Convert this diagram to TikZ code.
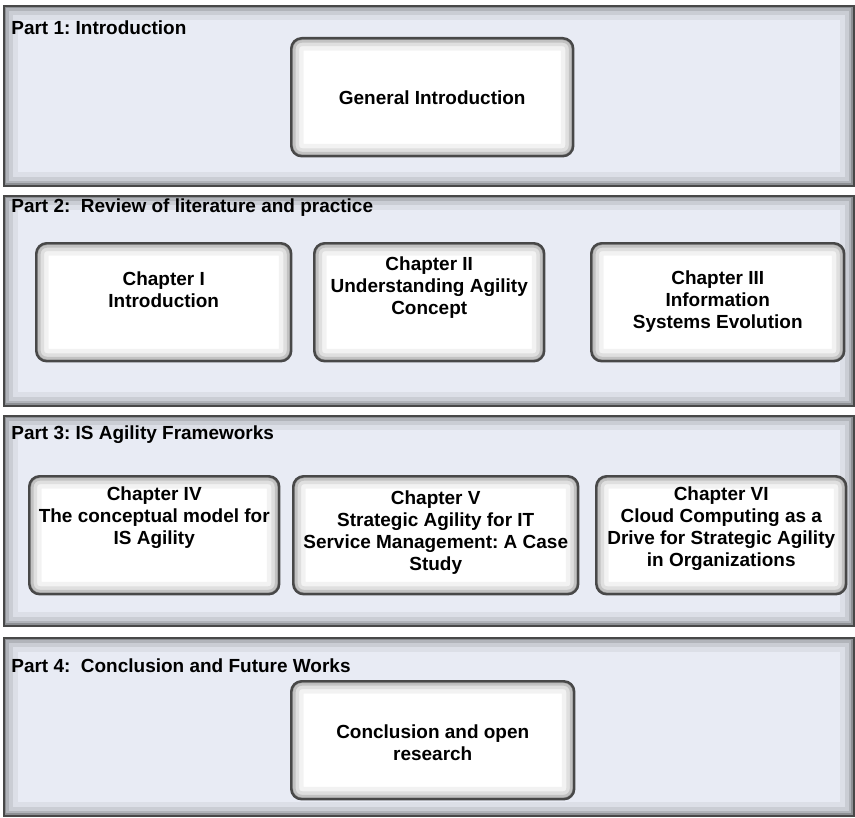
\documentclass[tikz,border=0pt]{standalone}
\usepackage{fontspec}
\setmainfont{Liberation Sans}
\usepackage{xcolor}
\usepackage{tikz}
\usetikzlibrary{positioning}
\frenchspacing
\definecolor{panelfill}{RGB}{232,235,244}
\definecolor{frameline}{RGB}{72,72,72}
\newcommand{\boxlines}[3]{\parbox[c][2.36cm][t]{#1}{\centering\vspace*{#2}#3}}

\begin{document}
\begin{tikzpicture}[
    partpanel/.style={
        rectangle,
        draw=frameline,
        line width=0.9pt,
        fill=panelfill,
        anchor=north west,
        minimum width=17cm,
        inner sep=0pt,
        path picture={
            \foreach \w/\o in {16pt/0.05, 10pt/0.08, 6pt/0.12, 3pt/0.2} {
                \draw[black, opacity=\o, line width=\w]
                    (path picture bounding box.south west) rectangle (path picture bounding box.north east);
            }
        }
    },
    partlabel/.style={
        anchor=base west,
        inner sep=0pt,
        font=\bfseries\fontsize{10.8}{12.5}\selectfont
    },
    chapbox/.style={
        rectangle,
        rounded corners=6pt,
        draw=frameline,
        line width=1.4pt,
        fill=white,
        anchor=north west,
        minimum height=2.36cm,
        inner sep=0pt,
        font=\bfseries\fontsize{10.8}{12.5}\selectfont,
        path picture={
            \foreach \w/\o in {14pt/0.05, 9pt/0.08, 5pt/0.13, 2pt/0.22} {
                \draw[black, opacity=\o, line width=\w, rounded corners=6pt]
                    (path picture bounding box.south west) rectangle (path picture bounding box.north east);
            }
        }
    }
]

\useasboundingbox (0,0) rectangle (17.1,-16.34);

% Panels
\node[partpanel, minimum height=3.60cm] (part1) at (0.06,-0.10) {};
\node[partpanel, minimum height=4.20cm] (part2) at (0.06,-3.90) {};
\node[partpanel, minimum height=4.20cm] (part3) at (0.06,-8.30) {};
\node[partpanel, minimum height=3.56cm] (part4) at (0.06,-12.74) {};

% Panel titles
\node[partlabel] (title1) at (0.22,-0.70) {Part 1: Introduction};
\node[partlabel] (title2) at (0.22,-4.24) {Part 2:~ Review of literature and practice};
\node[partlabel] (title3) at (0.22,-8.78) {Part 3: IS Agility Frameworks};
\node[partlabel] (title4) at (0.22,-13.44) {Part 4:~ Conclusion and Future Works};

% Part 1
\node[chapbox, minimum width=5.64cm] (intro) at (5.80,-0.74)
    {\boxlines{5.5cm}{1.055cm}{General Introduction}};

% Part 2
\node[chapbox, minimum width=5.10cm] (chap1) at (0.70,-4.84)
    {\boxlines{5.0cm}{0.57cm}{Chapter I\\Introduction}};
\node[chapbox, minimum width=4.60cm] (chap2) at (6.26,-4.84)
    {\boxlines{4.5cm}{0.265cm}{Chapter II\\Understanding Agility\\Concept}};
\node[chapbox, minimum width=5.06cm] (chap3) at (11.80,-4.84)
    {\boxlines{4.95cm}{0.55cm}{Chapter III\\Information\\Systems Evolution}};

% Part 3
\node[chapbox, minimum width=5.00cm] (chap4) at (0.56,-9.50)
    {\boxlines{4.9cm}{0.22cm}{Chapter IV\\The conceptual model for\\IS Agility}};
\node[chapbox, minimum width=5.70cm] (chap5) at (5.84,-9.50)
    {\boxlines{5.6cm}{0.285cm}{Chapter V\\Strategic Agility for IT\\Service Management: A Case\\Study}};
\node[chapbox, minimum width=5.00cm] (chap6) at (11.90,-9.50)
    {\boxlines{4.9cm}{0.22cm}{Chapter VI\\Cloud Computing as a\\Drive for Strategic Agility\\in Organizations}};

% Part 4
\node[chapbox, minimum width=5.66cm] (concl) at (5.80,-13.60)
    {\boxlines{5.5cm}{0.865cm}{Conclusion and open\\research}};

\end{tikzpicture}
\end{document}
